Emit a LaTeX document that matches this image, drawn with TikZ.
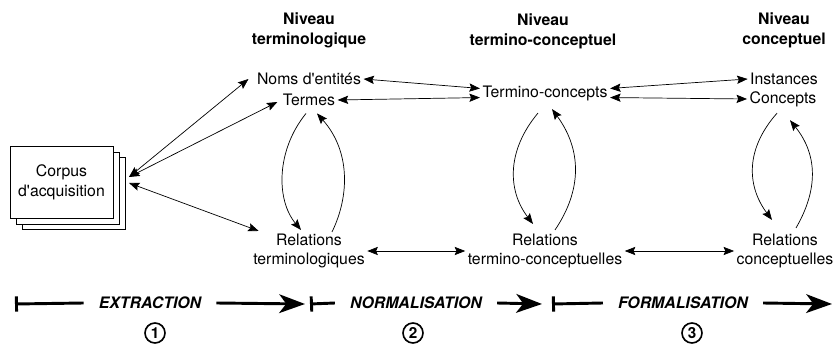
\documentclass[tikz,border=0pt]{standalone}
\usepackage{fontspec}
\setmainfont{TeX Gyre Heros}
\usetikzlibrary{arrows.meta}

\tikzset{
  lbl/.style={font=\fontsize{13.5}{17}\selectfont, align=center, inner sep=2pt},
  hdr/.style={lbl, font=\fontsize{13.5}{17}\selectfont\bfseries},
  phase/.style={lbl, font=\fontsize{13.5}{17}\selectfont\bfseries\itshape, inner xsep=0.45cm},
  sheet/.style={draw, semithick, fill=white, minimum width=3.09cm, minimum height=2.16cm, align=center,
                font=\fontsize{13.5}{17}\selectfont},
  num/.style={circle, draw, line width=1.4pt, minimum size=0.6cm, inner sep=0pt,
              font=\fontsize{13}{14}\selectfont\bfseries},
  phaseline/.style={line width=2.5pt},
  bigtip/.tip={Stealth[length=22pt,width=16pt,inset=6pt]},
}

\begin{document}
\begin{tikzpicture}[x=0.03cm, y=-0.03cm, >={Stealth[length=9pt,width=7pt,inset=1.5pt]}]

\useasboundingbox (0,0) rectangle (833,345);

\coordinate (cin1) at (129,177) {};
\coordinate (cin2) at (129,183) {};
%
\coordinate (p0) at (15,304) {};
\coordinate (p1) at (305,304) {};
\coordinate (p2) at (310,304) {};
\coordinate (p3) at (542,304) {};
\coordinate (p4) at (552,304) {};
\coordinate (p5) at (832,304) {};

%levels
\node[hdr] (hterm) at (309,30) {Niveau\\terminologique};
\node[hdr] (htc)   at (543,31) {Niveau\\termino-conceptuel};
\node[hdr] (hconc) at (784,30) {Niveau\\conceptuel};

%corpus
\node[sheet] (sheet3) at (74,193.5) {};
\node[sheet] (sheet2) at (68,188) {};
\node[sheet] (corpus) at (61.5,182) {Corpus\\d\textquotesingle acquisition};

%labels
\node[lbl] (noms)    at (309,79)  {Noms d\textquotesingle entités};
\node[lbl] (termes)  at (309,100) {Termes};
\node[lbl] (tc)      at (545,93)  {Termino-concepts};
\node[lbl] (inst)    at (784,79)  {Instances};
\node[lbl] (conc)    at (783,99)  {Concepts};
%
\node[lbl] (relterm) at (309,251) {Relations\\terminologiques};
\node[lbl] (reltc)   at (545,251) {Relations\\termino-conceptuelles};
\node[lbl] (relconc) at (785,251) {Relations\\conceptuelles};

%corpus links
\draw [semithick, <->] (cin1)--([shift={(-6,0)}]noms.west);          %corpus--noms
\draw [semithick, <->] (cin1)--([shift={(-3,2)}]termes.west);        %corpus--termes
\draw [semithick, <->] (cin2)--([shift={(8,0)}]relterm.north west);  %corpus--relations
%
\draw [semithick, <->] (noms.east)--(tc.176);      %noms--tc
\draw [semithick, <->] (termes.east)--(tc.184);    %termes--tc
\draw [semithick, <->] (tc.4)--(inst.west);        %tc--instances
\draw [semithick, <->] (tc.-4)--(conc.west);       %tc--concepts
%
\draw [semithick, <->] (relterm.east)--(reltc.west);   %relterm--reltc
\draw [semithick, <->] (reltc.east)--(relconc.west);   %reltc--relconc

%loops
\draw [semithick, ->] ([shift={(-3,5)}]termes.south) .. controls +(-30,37) and +(-25,-30) .. ([shift={(-8,-1)}]relterm.north);
\draw [semithick, ->] ([shift={(23,1)}]relterm.north) .. controls +(18,-37) and +(33,37) .. ([shift={(8,5)}]termes.south);
%
\draw [semithick, ->] ([shift={(-7,10)}]tc.south) .. controls +(-31,37) and +(-26,-34) .. ([shift={(-12,-7)}]reltc.north);
\draw [semithick, ->] ([shift={(10,-1)}]reltc.north) .. controls +(27,-40) and +(30,41) .. ([shift={(7,6)}]tc.south);
%
\draw [semithick, ->] ([shift={(-6,4)}]conc.south) .. controls +(-31,35) and +(-26,-35) .. ([shift={(-13,-11)}]relconc.north);
\draw [semithick, ->] ([shift={(11,-3)}]relconc.north) .. controls +(22,-38) and +(28,35) .. ([shift={(7,11)}]conc.south);

%phases
\node[phase] (extr) at (150,303) {EXTRACTION};
\node[phase] (norm) at (416,303) {NORMALISATION};
\node[phase] (form) at (683,303) {FORMALISATION};
%
\node[num] (n1) at (155,333) {1};
\node[num] (n2) at (413,333) {2};
\node[num] (n3) at (692,333) {3};
%
\draw [phaseline, {Bar[width=13pt]}-]  (p0)--(extr.west);
\draw [phaseline, -bigtip]             (extr.east)--(p1);
\draw [phaseline, {Bar[width=13pt]}-]  (p2)--(norm.west);
\draw [phaseline, -bigtip]             (norm.east)--(p3);
\draw [phaseline, {Bar[width=13pt]}-]  (p4)--(form.west);
\draw [phaseline, -bigtip]             (form.east)--(p5);

\end{tikzpicture}
\end{document}
